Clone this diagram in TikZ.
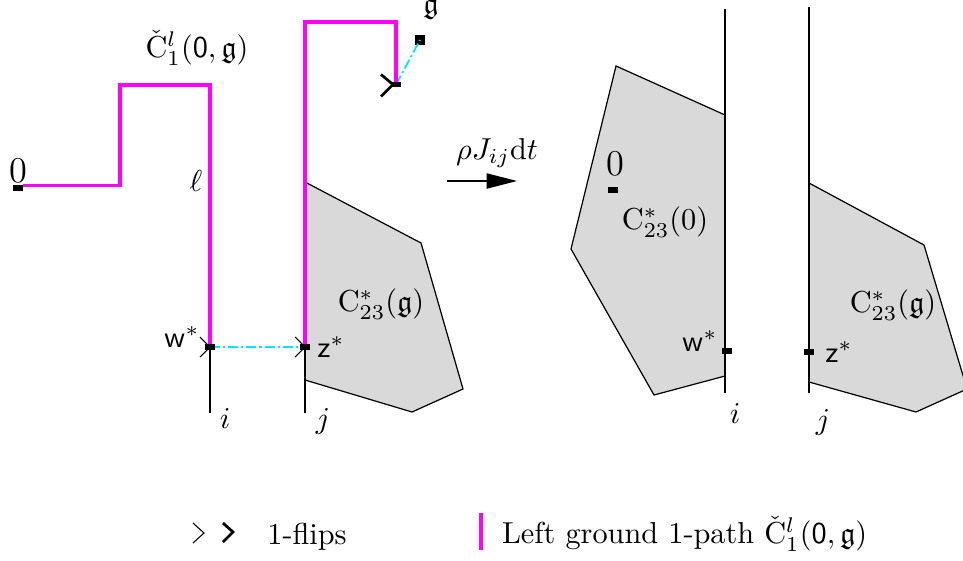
\documentclass[tikz,border=0pt]{standalone}
\usepackage{amssymb}
\usetikzlibrary{arrows.meta}
\definecolor{mag}{RGB}{255,0,255}
\definecolor{cy}{RGB}{0,230,255}
\definecolor{gfill}{RGB}{217,217,217}
\begin{document}
\begin{tikzpicture}[x=0.33pt,y=-0.33pt,
  lbl/.style={inner sep=0pt,outer sep=0pt},
  mpath/.style={draw=mag,line width=1pt},
  cyline/.style={draw=cy,line width=0.6pt,dash pattern=on 3.3pt off 1pt on 0.7pt off 1pt},
  thinline/.style={draw=black,line width=0.4pt},
  flipthin/.style={draw=black,line width=0.35pt},
  flipthick/.style={draw=black,line width=0.9pt},
  blkrect/.style={fill=black,draw=none,minimum width=3.4pt,minimum height=1.7pt,inner sep=0pt,outer sep=0pt},
  gsq/.style={fill=black,draw=none,minimum width=3.3pt,minimum height=3.3pt,inner sep=0pt,outer sep=0pt},
  polyfill/.style={fill=gfill,draw=none},
  polyedge/.style={draw=black,line width=0.4pt}]
\useasboundingbox (0,0) rectangle (963,560);

% ---------- left panel ----------
\fill[polyfill] (305,182) -- (421,243) -- (463,389) -- (412,412) -- (305,380) -- cycle;
\draw[polyedge] (305,182) -- (421,243) -- (463,389) -- (412,412) -- (305,380);

\node[blkrect] (o) at (18,188) {};
\node[blkrect] (wr) at (210,347) {};
\node[blkrect] (zr) at (305,347) {};
\node[blkrect] (fr) at (396,84.5) {};
\node[gsq] (gs) at (420,40) {};
\coordinate (p2) at (120,85);
\coordinate (q1) at (396,22);
\coordinate (ibot) at (210,413);
\coordinate (jbot) at (305,413);

\draw[thinline] (wr.center) -- (ibot);
\draw[thinline] (zr.center) -- (jbot);
\draw[cyline] (wr.center) -- (zr.center);
\draw[cyline] (fr.center) -- (gs.center);

\draw[mpath] (o.north east) -| (p2) -| (wr.center);
\draw[mpath] (zr.center) |- (q1) -- (fr.center);

\node[blkrect] at (o) {};
\node[blkrect] at (wr) {};
\node[blkrect] at (zr) {};
\node[blkrect] at (fr) {};

\draw[flipthin] ([shift={(-10,-10)}]wr.center) -- (wr.center) -- ([shift={(-10,10)}]wr.center);
\draw[flipthin] ([shift={(-10,-10)}]zr.center) -- (zr.center) -- ([shift={(-10,10)}]zr.center);
\draw[flipthick] ([shift={(-15,-10)}]fr.center) -- ([shift={(-3,0)}]fr.center) -- ([shift={(-15,12)}]fr.center);

\node[lbl] (olab) at (18,171) {\large $0$};
\node[lbl] (ell) at (196,181) {$\ell$};
\node[lbl] (clab) at (197,48) {$\check{\mathrm{C}}^{l}_{1}(\mathsf{0},\mathfrak{g})$};
\node[lbl] (glab) at (431,9) {$\mathfrak{g}$};
\node[lbl] (wlab) at (182,337) {$\mathsf{w}^*$};
\node[lbl] (zlab) at (331,347) {$\mathsf{z}^*$};
\node[lbl] (cg1) at (381,304) {$\mathrm{C}^*_{23}(\mathfrak{g})$};
\node[lbl] (ilab) at (225,418) {$i$};
\node[lbl] (jlab) at (323,421) {$j$};

% ---------- arrow ----------
\coordinate (a1) at (447,181);
\coordinate (a2) at (517,181);
\draw[line width=0.5pt,-{Triangle[length=10pt,width=5pt]}] (a1) -- (a2);
\node[lbl] (rho) at (497,153) {$\rho J_{ij}\mathrm{d}t$};

% ---------- right panel ----------
\fill[polyfill] (616,66) -- (725,115) -- (725,376) -- (654,395) -- (571,249) -- cycle;
\draw[polyedge] (725,115) -- (616,66) -- (571,249) -- (654,395) -- (725,376);
\begin{scope}
\clip (0,0) rectangle (963,560);
\fill[polyfill] (809,183) -- (924,245) -- (967,389) -- (916,412) -- (809,382) -- cycle;
\draw[polyedge] (809,183) -- (924,245) -- (967,389) -- (916,412) -- (809,382);
\end{scope}
\coordinate (itop) at (725,9);
\coordinate (ibot2) at (725,393);
\coordinate (jtop) at (809,7);
\coordinate (jbot2) at (809,393);
\draw[thinline] (itop) -- (ibot2);
\draw[thinline] (jtop) -- (jbot2);

\node[blkrect] (o2) at (613,190) {};
\node[blkrect] (wr2) at (727,351) {};
\node[blkrect] (zr2) at (809,352) {};
\node[lbl] (olab2) at (615,164) {\large $0$};
\node[lbl] (c0) at (665,222) {$\mathrm{C}^*_{23}(0)$};
\node[lbl] (wlab2) at (700,341) {$\mathsf{w}^*$};
\node[lbl] (zlab2) at (839,352) {$\mathsf{z}^*$};
\node[lbl] (cg2) at (893,305) {$\mathrm{C}^*_{23}(\mathfrak{g})$};
\node[lbl] (ilab2) at (735,414) {$i$};
\node[lbl] (jlab2) at (823,422) {$j$};

% ---------- legend ----------
\coordinate (l1) at (204,533);
\coordinate (l2) at (233,532);
\draw[flipthin] ([shift={(-11,-10)}]l1) -- (l1) -- ([shift={(-11,10)}]l1);
\draw[flipthick] ([shift={(-10,-9)}]l2) -- (l2) -- ([shift={(-10,10)}]l2);
\node[lbl] (flips) at (307,537) {1-flips};
\coordinate (b1) at (481,513);
\coordinate (b2) at (481,550);
\draw[mpath] (b1) -- (b2);
\node[lbl,anchor=west] (leg) at (502,534) {Left ground 1-path $\check{\mathrm{C}}^{l}_{1}(\mathsf{0},\mathfrak{g})$};
\end{tikzpicture}
\end{document}
